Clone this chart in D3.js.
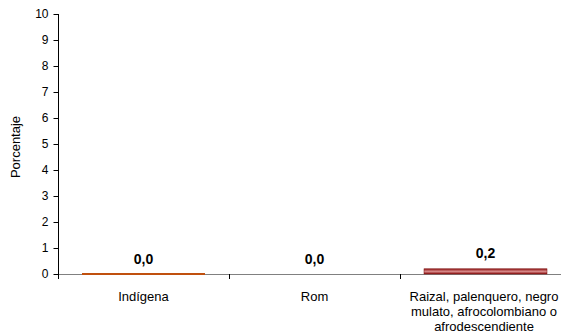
<!DOCTYPE html>
<html><head><meta charset="utf-8">
<script src="https://cdn.jsdelivr.net/npm/d3@7"></script>
<style>body{margin:0;background:#fff}svg{display:block;font-family:"Liberation Sans",Arial,sans-serif}</style>
</head><body><svg id="c" width="561" height="336"></svg>
<script>
const categories = [["Indígena"], ["Rom"], ["Raizal, palenquero, negro", "mulato, afrocolombiano o", "afrodescendiente"]];
const values = [0.0, 0.0, 0.2];
const labels = ["0,0", "0,0", "0,2"];
const barColors = ["#c0500e", "#9c2a2a", "#8b1a1a"];
const yTicks = [0,1,2,3,4,5,6,7,8,9,10];

const svg = d3.select("#c");
const x = d3.scaleBand().domain(d3.range(categories.length)).range([58, 571]).paddingInner(0).paddingOuter(0);
const y = d3.scaleLinear().domain([0, 10]).range([274, 14]);

const defs = svg.append("defs");
const g = defs.append("linearGradient").attr("id","grd").attr("x1",0).attr("y1",0).attr("x2",0).attr("y2",1);
g.append("stop").attr("offset","0%").attr("stop-color","#8b1010");
g.append("stop").attr("offset","50%").attr("stop-color","#d88a8a");
g.append("stop").attr("offset","100%").attr("stop-color","#8b1010");

// zero line
svg.append("line").attr("x1",58).attr("x2",561).attr("y1",y(0)+0.5).attr("y2",y(0)+0.5).attr("stroke","#808080");

// bars
const pad = 24;
values.forEach((v,i)=>{
  const x0 = x(i)+pad, w = x.bandwidth()-2*pad;
  const h = y(0)-y(v);
  if (v > 0) {
    svg.append("rect").attr("x",x0).attr("y",y(v)).attr("width",w).attr("height",h)
      .attr("fill","url(#grd)").attr("stroke","#7a0a0a").attr("stroke-width",0.5);
  } else if (i === 0) {
    svg.append("rect").attr("x",x0).attr("y",y(0)-1).attr("width",w).attr("height",2).attr("fill",barColors[0]);
  }
  svg.append("text").attr("x",x0+w/2).attr("y",y(v)-10.5).attr("text-anchor","middle")
    .attr("font-size",14).attr("font-weight","bold").attr("fill","#000").text(labels[i]);
});

// y axis
const ya = svg.append("g").attr("transform","translate(58.5,0)")
  .call(d3.axisLeft(y).tickValues(yTicks).tickSize(5).tickPadding(5).tickFormat(d3.format("d")));
ya.select(".domain").attr("stroke","#000").attr("d","M0,14V279");
ya.selectAll(".tick line").attr("stroke","#000");
ya.selectAll(".tick text").attr("font-size",12).attr("fill","#000").attr("font-family","Liberation Sans, Arial, sans-serif");

// x ticks (category boundaries)
d3.range(categories.length).forEach(i=>{
  svg.append("line").attr("x1",Math.round(x(i))+0.5).attr("x2",Math.round(x(i))+0.5).attr("y1",y(0)).attr("y2",y(0)+5).attr("stroke","#000");
});

// x labels
categories.forEach((lines,i)=>{
  const t = svg.append("text").attr("text-anchor","middle").attr("font-size",13).attr("fill","#000");
  lines.forEach((l,j)=>{
    t.append("tspan").attr("x", i===2 ? 484 : x(i)+x.bandwidth()/2).attr("y",301+j*15).text(l);
  });
});

// y label
svg.append("text").attr("transform","translate(20,147) rotate(-90)").attr("text-anchor","middle")
  .attr("font-size",13).attr("fill","#000").text("Porcentaje");
</script></body></html>
